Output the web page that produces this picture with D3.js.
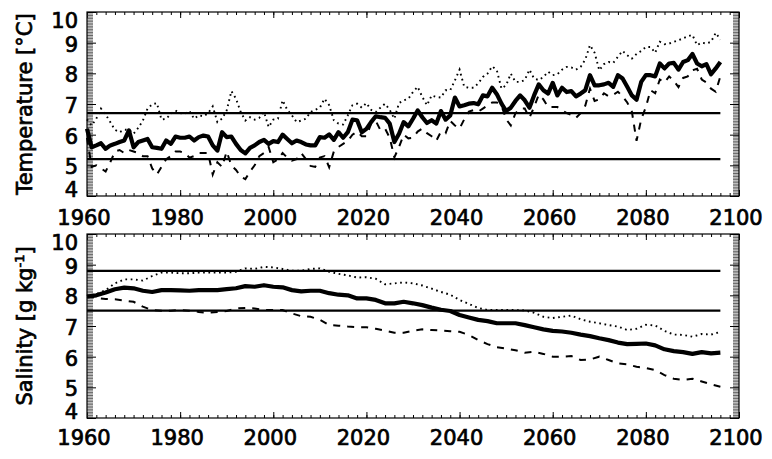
<!DOCTYPE html>
<html>
<head>
<meta charset="utf-8">
<script src="https://cdn.jsdelivr.net/npm/d3@7"></script>
<style>
  body { margin: 0; background: #fff; }
  svg { display: block; }
  text { font-family: "DejaVu Sans", sans-serif; fill: #000; stroke: #000; stroke-width: 0.7px; }
</style>
</head>
<body>
<svg id="chart" width="772" height="459"></svg>
<script>
// annual temperature series, 1960-2096
const tempYears = d3.range(1960, 2097);
const tempMean = [
  6.19, 5.59, 5.65, 5.72, 5.54, 5.65, 5.70, 5.76, 5.81, 6.14, 5.59, 5.76, 5.81, 5.86, 5.59, 5.57, 5.54, 5.81, 5.70, 5.94,
  5.90, 5.90, 5.94, 5.81, 5.92, 5.97, 5.94, 5.65, 5.48, 6.08, 5.92, 5.94, 5.70, 5.50, 5.39, 5.57, 5.65, 5.76, 5.83, 5.70,
  5.79, 5.76, 6.00, 5.86, 5.72, 5.81, 5.76, 5.68, 5.65, 5.65, 5.92, 5.90, 6.01, 5.83, 6.08, 5.90, 6.08, 6.49, 6.47, 6.08,
  6.19, 6.41, 6.60, 6.57, 6.55, 6.36, 5.76, 6.03, 6.41, 6.27, 6.52, 6.79, 6.57, 6.38, 6.47, 6.36, 6.77, 6.49, 6.63, 7.21,
  6.92, 6.96, 7.01, 7.03, 6.99, 7.28, 7.25, 7.53, 7.32, 7.01, 6.77, 6.88, 7.10, 7.28, 7.12, 6.88, 7.28, 7.64, 7.45, 7.34,
  7.69, 7.28, 7.53, 7.39, 7.42, 7.25, 7.34, 7.45, 7.94, 7.61, 7.61, 7.64, 7.69, 7.56, 7.94, 7.83, 7.56, 7.28, 7.14, 7.72,
  7.94, 7.94, 7.90, 8.32, 8.16, 8.32, 8.34, 8.12, 8.37, 8.43, 8.63, 8.32, 8.23, 8.30, 7.97, 8.16, 8.37
];
const tempMax = [
  6.50, 6.30, 6.52, 6.85, 6.66, 6.41, 6.16, 6.08, 6.16, 6.16, 6.03, 6.22, 6.46, 6.85, 6.99, 7.03, 6.49, 6.52, 6.68, 6.79,
  6.70, 6.68, 6.77, 6.52, 6.63, 6.60, 6.70, 6.92, 6.41, 6.52, 6.79, 7.42, 7.17, 6.74, 6.46, 6.57, 6.49, 6.55, 6.74, 6.25,
  6.49, 6.52, 7.12, 6.81, 6.63, 6.41, 6.46, 6.52, 6.74, 6.81, 6.88, 7.17, 6.96, 6.47, 6.36, 6.33, 6.63, 6.96, 7.01, 6.88,
  7.03, 6.81, 6.74, 6.88, 7.01, 6.81, 6.52, 7.03, 7.12, 7.17, 7.39, 7.56, 7.23, 6.96, 7.28, 7.23, 7.21, 7.45, 7.45, 7.77,
  8.12, 7.56, 7.53, 7.53, 7.67, 7.88, 7.99, 8.23, 8.10, 7.50, 7.61, 7.99, 7.72, 7.72, 7.78, 8.12, 7.83, 7.78, 7.88, 8.05,
  7.94, 7.97, 8.12, 8.21, 8.19, 8.12, 8.21, 8.45, 8.92, 8.67, 8.10, 8.30, 8.37, 8.34, 8.54, 8.73, 8.59, 8.48, 8.63, 8.73,
  8.86, 8.86, 8.67, 9.03, 8.95, 8.97, 9.03, 9.08, 9.14, 9.21, 9.25, 8.92, 9.00, 8.97, 9.03, 9.32, 9.10
];
const tempMin = [
  5.90, 4.95, 5.00, 4.90, 4.80, 5.10, 5.45, 5.50, 5.40, 5.50, 5.45, 5.40, 5.30, 5.30, 4.90, 4.70, 4.95, 5.20, 5.30, 5.45,
  5.45, 5.40, 5.25, 5.30, 5.40, 5.40, 5.40, 4.70, 5.10, 4.95, 5.45, 5.00, 4.85, 4.63, 4.55, 4.80, 5.00, 5.30, 5.40, 5.60,
  5.10, 5.20, 5.40, 5.25, 5.15, 5.20, 5.40, 5.20, 4.98, 4.95, 5.25, 5.30, 4.94, 5.45, 5.60, 5.70, 5.80, 6.00, 6.10, 5.95,
  5.95, 6.35, 6.45, 6.15, 6.20, 5.90, 5.26, 5.60, 6.00, 5.88, 5.90, 6.10, 6.20, 6.05, 5.95, 5.80, 6.10, 6.05, 6.45, 6.30,
  6.20, 6.50, 6.75, 6.80, 6.75, 6.85, 6.95, 7.05, 7.05, 6.95, 6.50, 6.30, 6.70, 6.85, 6.85, 6.55, 6.90, 7.30, 7.15, 6.90,
  6.90, 6.90, 6.80, 6.70, 6.65, 6.55, 6.70, 6.95, 7.50, 7.10, 7.15, 7.35, 7.25, 7.30, 7.40, 7.25, 7.05, 6.75, 5.80, 6.50,
  6.90, 7.45, 7.35, 7.80, 7.70, 7.90, 7.75, 7.55, 7.85, 7.90, 8.10, 8.15, 7.80, 7.70, 7.50, 7.40, 7.90
];

// salinity series, read every second year 1960-2096
const salYears = d3.range(1960, 2097, 2);
const salMean = [
  7.96, 8.00, 8.09, 8.20, 8.25, 8.23, 8.15, 8.11, 8.17, 8.17,
  8.16, 8.15, 8.17, 8.17, 8.17, 8.20, 8.23, 8.30, 8.28, 8.33,
  8.28, 8.26, 8.17, 8.13, 8.15, 8.15, 8.07, 8.02, 8.00, 7.90,
  7.90, 7.85, 7.74, 7.74, 7.79, 7.74, 7.68, 7.60, 7.53, 7.49,
  7.36, 7.28, 7.20, 7.16, 7.09, 7.09, 7.09, 7.03, 6.96, 6.89,
  6.84, 6.82, 6.78, 6.72, 6.67, 6.60, 6.54, 6.46, 6.41, 6.42,
  6.43, 6.37, 6.24, 6.18, 6.15, 6.09, 6.15, 6.11, 6.13
];
const salMax = [
  7.98, 8.04, 8.17, 8.39, 8.52, 8.52, 8.48, 8.63, 8.74, 8.74,
  8.72, 8.72, 8.74, 8.74, 8.74, 8.74, 8.77, 8.88, 8.86, 8.93,
  8.91, 8.86, 8.80, 8.80, 8.86, 8.88, 8.77, 8.70, 8.65, 8.58,
  8.59, 8.54, 8.36, 8.39, 8.42, 8.39, 8.32, 8.22, 8.11, 8.02,
  7.85, 7.72, 7.59, 7.52, 7.52, 7.52, 7.52, 7.51, 7.43, 7.30,
  7.26, 7.30, 7.34, 7.22, 7.14, 7.09, 7.03, 6.98, 6.87, 6.91,
  7.04, 7.02, 6.84, 6.72, 6.71, 6.65, 6.74, 6.72, 6.81
];
const salMin = [
  7.96, 7.92, 7.88, 7.87, 7.83, 7.79, 7.63, 7.52, 7.50, 7.50,
  7.52, 7.50, 7.46, 7.43, 7.46, 7.49, 7.57, 7.59, 7.57, 7.52,
  7.52, 7.52, 7.41, 7.32, 7.30, 7.20, 7.03, 7.01, 6.98, 6.96,
  6.96, 6.91, 6.85, 6.78, 6.78, 6.85, 6.89, 6.87, 6.85, 6.83,
  6.81, 6.71, 6.54, 6.41, 6.31, 6.26, 6.21, 6.13, 6.16, 6.09,
  6.00, 6.00, 6.02, 5.89, 5.91, 6.00, 5.89, 5.78, 5.75, 5.67,
  5.63, 5.56, 5.40, 5.28, 5.24, 5.28, 5.19, 5.10, 5.02
];

const xTickYears = [1960, 1980, 2000, 2020, 2040, 2060, 2080, 2100];
const yTickValues = [4, 5, 6, 7, 8, 9, 10];
const tempRefLines = [5.2, 6.7];
const salRefLines = [8.8, 7.5];

const svg = d3.select("#chart");
const plotLeft = 87, plotRight = 739, plotH = 184;

const x = d3.scaleLinear().domain([1960, 2100]).range([plotLeft, plotRight]);
const refEnd = 2096;

function drawPanel(top, years, mean, hi, lo, refs, title, labelGap) {
  const y = d3.scaleLinear().domain([4, 10]).range([top + plotH, top]);
  const g = svg.append("g");

  // minor + major ticks, all pointing inward
  const minorX = d3.range(1960, 2101, 2);
  const minorY = d3.range(4, 10.001, 0.05);
  g.append("g").attr("transform", `translate(0,${top + plotH})`)
    .call(d3.axisBottom(x).tickValues(minorX).tickSize(-3).tickFormat(""));
  g.append("g").attr("transform", `translate(0,${top + plotH})`)
    .call(d3.axisBottom(x).tickValues(xTickYears).tickSize(-6).tickFormat(""));
  g.append("g").attr("transform", `translate(0,${top})`)
    .call(d3.axisTop(x).tickValues(minorX).tickSize(-3).tickFormat(""));
  g.append("g").attr("transform", `translate(0,${top})`)
    .call(d3.axisTop(x).tickValues(xTickYears).tickSize(-6).tickFormat(""));
  g.append("g").attr("transform", `translate(${plotLeft},0)`)
    .call(d3.axisLeft(y).tickValues(minorY).tickSize(-6).tickFormat(""))
    .selectAll(".tick line").attr("stroke", "#555").attr("stroke-width", 0.9);
  g.append("g").attr("transform", `translate(${plotLeft},0)`)
    .call(d3.axisLeft(y).tickValues(yTickValues).tickSize(-9).tickFormat(""));
  g.append("g").attr("transform", `translate(${plotRight},0)`)
    .call(d3.axisRight(y).tickValues(minorY).tickSize(-6).tickFormat(""))
    .selectAll(".tick line").attr("stroke", "#555").attr("stroke-width", 0.9);
  g.append("g").attr("transform", `translate(${plotRight},0)`)
    .call(d3.axisRight(y).tickValues(yTickValues).tickSize(-9).tickFormat(""));
  g.selectAll(".domain").remove();

  // frame
  g.append("rect")
    .attr("x", plotLeft).attr("y", top)
    .attr("width", plotRight - plotLeft).attr("height", plotH)
    .attr("fill", "none").attr("stroke", "#000").attr("stroke-width", 1.2);

  // tick labels
  g.selectAll("text.xl").data(xTickYears).enter().append("text")
    .attr("class", "xl")
    .attr("x", d => x(d) - 3)
    .attr("y", top + plotH + labelGap)
    .attr("text-anchor", "middle")
    .attr("font-size", 21)
    .text(d => d);
  g.selectAll("text.yl").data(yTickValues).enter().append("text")
    .attr("class", "yl")
    .attr("x", 78)
    .attr("y", d => y(d) + (d === 10 ? 16 : d === 4 ? 1 : 9))
    .attr("text-anchor", "end")
    .attr("font-size", 21)
    .text(d => d);

  // reference lines
  g.selectAll("line.ref").data(refs).enter().append("line")
    .attr("class", "ref")
    .attr("x1", x(1960)).attr("x2", x(refEnd))
    .attr("y1", d => y(d)).attr("y2", d => y(d))
    .attr("stroke", "#000").attr("stroke-width", 2.2);

  const line = d3.line().x((d, i) => x(years[i])).y(d => y(d));
  g.append("path").datum(hi).attr("d", line)
    .attr("fill", "none").attr("stroke", "#000")
    .attr("stroke-width", 1.9).attr("stroke-dasharray", "1.7,3.6");
  g.append("path").datum(lo).attr("d", line)
    .attr("fill", "none").attr("stroke", "#000")
    .attr("stroke-width", 2).attr("stroke-dasharray", "7,7");
  g.append("path").datum(mean).attr("d", line)
    .attr("fill", "none").attr("stroke", "#000")
    .attr("stroke-width", 4.2).attr("stroke-linejoin", "round");

  // axis title
  const t = svg.append("text")
    .attr("transform", `translate(32,${top + plotH / 2}) rotate(-90)`)
    .attr("text-anchor", "middle")
    .attr("font-size", 21);
  title(t);
}

drawPanel(12, tempYears, tempMean, tempMax, tempMin, tempRefLines,
  t => t.text("Temperature [°C]"), 29);
drawPanel(234, salYears, salMean, salMax, salMin, salRefLines,
  t => {
    t.append("tspan").text("Salinity [g kg");
    t.append("tspan").attr("font-size", 13).attr("dy", -8).text("-1");
    t.append("tspan").attr("dy", 8).text("]");
  }, 27);
</script>
</body>
</html>
